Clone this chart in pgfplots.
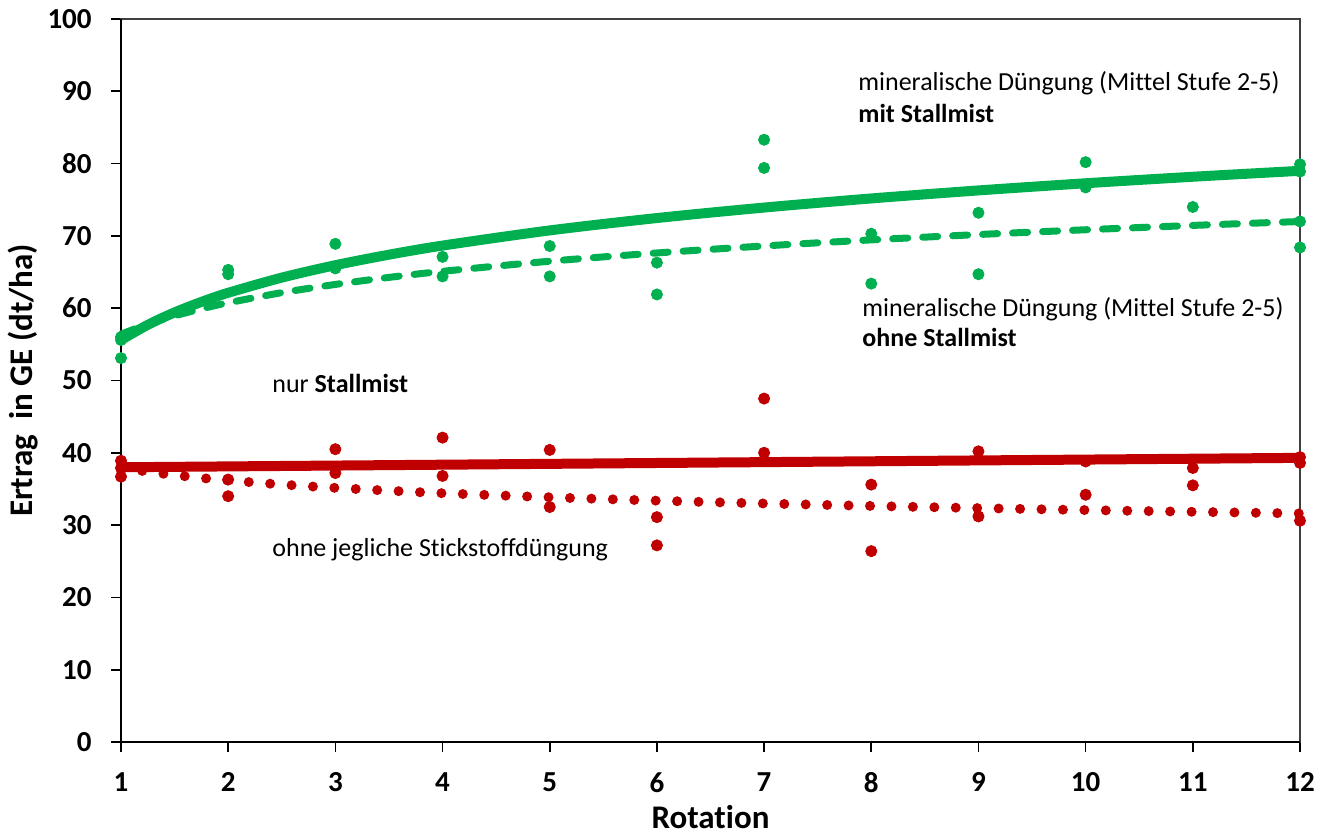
\documentclass[border=0pt]{standalone}
\usepackage{fontspec}
\setmainfont{Carlito}[Ligatures={NoCommon}]
\usepackage{pgfplots}
\pgfplotsset{compat=1.18}
\definecolor{mgreen}{RGB}{0,176,80}
\definecolor{mred}{RGB}{192,0,0}
\begin{document}
\begin{tikzpicture}
\begin{axis}[
  scale only axis, width=589.5pt, height=361.5pt,
  xmin=1, xmax=12, ymin=0, ymax=100,
  xtick={1,...,12}, ytick={0,10,...,100},
  tick align=outside, major tick length=5pt,
  xtick pos=bottom, ytick pos=left,
  tick style={black, line width=0.8pt},
  axis line style={line width=0.6pt, black!75},
  /pgf/number format/assume math mode=true,
  ticklabel style={font=\fontsize{14.5}{16}\selectfont\bfseries},
  yticklabel style={inner sep=0pt, anchor=east, xshift=-9.5pt},
  xticklabel style={inner sep=0pt, anchor=north, yshift=-10pt},
  clip=false,
  xlabel={Rotation}, ylabel={Ertrag\ \ in GE (dt/ha)},
  label style={font=\fontsize{16.5}{18}\selectfont\bfseries},
  xlabel style={at={([yshift=-43.3pt]axis description cs:0.5,0)}, anchor=base},
  ylabel style={at={([xshift=-44pt]axis description cs:0,0.5)}, anchor=base, rotate=0},
]
% left and bottom axis lines thicker
\draw[line width=1pt, black] (rel axis cs:0,1) -- (rel axis cs:0,0) -- (rel axis cs:1,0);

% scatter points green
\addplot[only marks, mark=*, mark size=2.8pt, mgreen, mark options={draw=mgreen, fill=mgreen}] coordinates {
 (1,53.1) (1,55.6) (1,56.0)
 (2,65.3) (2,64.7)
 (3,68.9) (3,65.5)
 (4,67.1) (4,64.4)
 (5,68.6) (5,64.4)
 (6,66.3) (6,61.9)
 (7,83.3) (7,79.4)
 (8,70.3) (8,63.4)
 (9,73.2) (9,64.7)
 (10,80.2) (10,76.7)
 (11,74.0)
 (12,79.9) (12,78.9) (12,72.0) (12,68.4)
};
% scatter points red
\addplot[only marks, mark=*, mark size=2.8pt, mred, mark options={draw=mred, fill=mred}] coordinates {
 (1,38.9) (1,37.9) (1,36.7)
 (2,36.3) (2,34.0)
 (3,40.5) (3,37.2)
 (4,42.1) (4,36.8)
 (5,40.4) (5,32.5)
 (6,31.1) (6,27.2)
 (7,47.5) (7,40.0)
 (8,35.6) (8,26.4)
 (9,40.2) (9,31.2)
 (10,38.8) (10,34.2)
 (11,37.9) (11,35.5)
 (12,39.4) (12,38.6) (12,30.6)
};
% trend: mit Stallmist (solid green)
\addplot[mgreen, line width=5pt, smooth, no markers, line cap=round] coordinates {
 (1,55.60) (1.25,57.70) (1.5,59.42) (1.75,60.87) (2,62.13) (2.5,64.23) (3,65.95) (3.5,67.40)
 (4,68.66) (5,70.76) (6,72.47) (7,73.92) (8,75.18) (9,76.29) (10,77.28) (11,78.18) (12,79.00)
};
% trend: ohne Stallmist (dashed green)
\addplot[mgreen, line width=3.5pt, smooth, no markers, line cap=round, dash pattern=on 7.5pt off 7.5pt] coordinates {
 (1,56.40) (1.25,57.80) (1.5,58.94) (1.75,59.91) (2,60.75) (2.5,62.15) (3,63.29) (3.5,64.26)
 (4,65.10) (5,66.50) (6,67.64) (7,68.61) (8,69.45) (9,70.19) (10,70.85) (11,71.45) (12,71.99)
};
% trend: nur Stallmist (solid red)
\addplot[mred, line width=5pt, no markers] coordinates {
 (1,38.0) (12,39.3)
};
% trend: ohne N (dotted red)
\addplot[mred, line width=5pt, smooth, no markers, line cap=round, dash pattern=on 0pt off 10.72pt] coordinates {
 (1,37.95) (1.25,37.38) (1.5,36.92) (1.75,36.52) (2,36.18) (2.5,35.61) (3,35.15) (3.5,34.76)
 (4,34.41) (5,33.85) (6,33.38) (7,32.99) (8,32.65) (9,32.35) (10,32.08) (11,31.84) (12,31.61)
};

\node[anchor=base west, inner sep=0pt, font=\fontsize{13}{15}\selectfont] at (axis cs:7.876,90.1) {mineralische Düngung (Mittel Stufe 2-5)};
\node[anchor=base west, inner sep=0pt, font=\fontsize{13}{15}\selectfont\bfseries] at (axis cs:7.876,85.7) {mit Stallmist};
\node[anchor=base west, inner sep=0pt, font=\fontsize{13}{15}\selectfont] at (axis cs:7.914,58.9) {mineralische Düngung (Mittel Stufe 2-5)};
\node[anchor=base west, inner sep=0pt, font=\fontsize{13}{15}\selectfont\bfseries] at (axis cs:7.914,54.7) {ohne Stallmist};
\node[anchor=base west, inner sep=0pt, font=\fontsize{13}{15}\selectfont] at (axis cs:2.409,48.3) {nur \textbf{Stallmist}};
\node[anchor=base west, inner sep=0pt, font=\fontsize{13}{15}\selectfont] at (axis cs:2.409,25.6) {ohne jegliche Stickstoffdüngung};
\end{axis}
\pgfresetboundingbox
\path (-60.5pt,-47pt) rectangle (605.5pt,371pt);
\end{tikzpicture}
\end{document}
